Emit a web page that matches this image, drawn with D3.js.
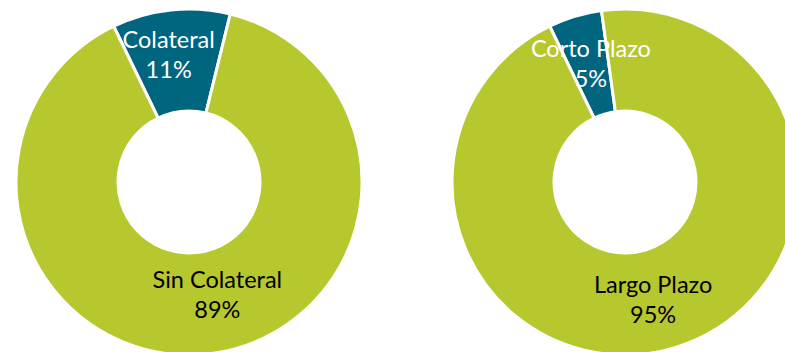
<!DOCTYPE html>
<html>
<head>
<meta charset="utf-8">
<script src="https://cdn.jsdelivr.net/npm/d3@7"></script>
<style>
  body { margin: 0; background: #fff; }
  svg { display: block; }
  text { font-family: "Lato", "Open Sans", sans-serif; }
</style>
</head>
<body>
<svg id="chart" width="785" height="352"></svg>
<script>
// Data
var leftLabels = ["Colateral", "Sin Colateral"]
var leftValues = [11, 89]
var rightLabels = ["Corto Plazo", "Largo Plazo"]
var rightValues = [5, 95]

// Colors
var colorBlue = "#00657f"
var colorGreen = "#b7c72e"

var width = 785
var height = 352
var outerR = 173
var innerR = 71
var startDeg = -25.8

var svg = d3.select("#chart")

var pie = d3.pie()
    .sort(null)
    .startAngle(startDeg * Math.PI / 180)
    .endAngle((startDeg + 360) * Math.PI / 180)

var arc = d3.arc().innerRadius(innerR).outerRadius(outerR)
var labelArc = d3.arc().innerRadius(118).outerRadius(118)

var color = d3.scaleOrdinal().domain([0, 1]).range([colorBlue, colorGreen])
var textColor = d3.scaleOrdinal().domain([0, 1]).range(["#ffffff", "#000000"])

function drawDonut(cx, cy, labels, values, nudges) {
    var g = svg.append("g").attr("transform", "translate(" + cx + "," + cy + ")")
    var arcs = pie(values)

    g.selectAll("path")
        .data(arcs)
        .enter().append("path")
        .attr("d", arc)
        .style("fill", (d, i) => color(i))
        .style("stroke", "#fff")
        .style("stroke-width", 3)

    // first baseline sits at centroid + nudge, second line 30px below
    var lbl = g.selectAll(".lbl")
        .data(arcs)
        .enter().append("text")
        .attr("class", "lbl")
        .attr("text-anchor", "middle")
        .style("font-size", "23.5px")
        .style("fill", (d, i) => textColor(i))
        .attr("transform", function(d, i) {
            var c = labelArc.centroid(d)
            return "translate(" + (c[0] + nudges[i][0]) + "," + (c[1] + nudges[i][1]) + ")"
        })

    lbl.append("tspan")
        .attr("x", 0)
        .attr("dy", 0)
        .text((d, i) => labels[i])
    lbl.append("tspan")
        .attr("x", 0)
        .attr("dy", 30)
        .text(d => d.data + "%")
}

drawDonut(189, 182, leftLabels, leftValues, [[-8, -17], [16, -11]])
drawDonut(625, 182, rightLabels, rightValues, [[0, -12], [-6, -2]])
</script>
</body>
</html>
